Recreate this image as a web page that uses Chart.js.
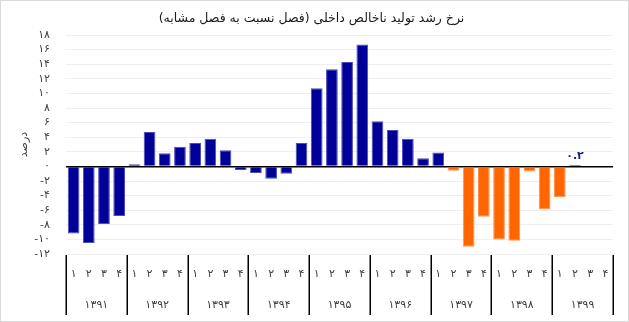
<!DOCTYPE html>
<html><head><meta charset="utf-8">
<script src="https://cdn.jsdelivr.net/npm/chart.js@4/dist/chart.umd.min.js"></script>
<style>html,body{margin:0;padding:0;background:#fff}#wrap{width:629px;height:322px}</style>
</head><body><div id="wrap"><canvas id="c" width="629" height="322"></canvas></div>
<script>
// ---- data ----
const years = ['۱۳۹۱','۱۳۹۲','۱۳۹۳','۱۳۹۴','۱۳۹۵','۱۳۹۶','۱۳۹۷','۱۳۹۸','۱۳۹۹'];
const quarters = ['۱','۲','۳','۴'];
const chartTitle = 'نرخ رشد تولید ناخالص داخلی (فصل نسبت به فصل مشابه)';
const yTitle = 'درصد';
// blue series (per quarter, 1391Q1 .. 1399Q4)
const blueSeries = [
  -9.2, -10.5, -7.9, -6.8,
   0.3,   4.7,  1.8,  2.7,
   3.2,   3.8,  2.2, -0.5,
  -0.9,  -1.7, -1.0,  3.2,
  10.7,  13.3, 14.3, 16.7,
   6.2,   5.0,  3.8,  1.1,
   1.9,  null, null, null,
  null,  null, null, null,
  null,   0.2, null, null
];
// orange series
const orangeSeries = [
  null, null, null, null,
  null, null, null, null,
  null, null, null, null,
  null, null, null, null,
  null, null, null, null,
  null, null, null, null,
  null, -0.6, -11.0, -6.9,
  -10.0, -10.2, -0.7, -5.9,
  -4.2, null, null, null
];
const blueLabels = [
  null,null,null,null, null,null,null,null, null,null,null,null,
  null,null,null,null, null,null,null,null, null,null,null,null,
  null,null,null,null, null,null,null,null, null,'۰.۲',null,null
];
const yMin = -12, yMax = 18, yStep = 2;

// ---- helpers ----
const faDigits = '۰۱۲۳۴۵۶۷۸۹';
const toFa = v => String(v).replace(/[0-9]/g, d => faDigits[+d]);
const categories = years.flatMap(() => quarters);

Chart.defaults.font.family = "'DejaVu Sans', sans-serif";
Chart.defaults.font.size = 11;
Chart.defaults.color = '#404040';

const framePlugin = {
  id: 'frame',
  beforeDraw(chart) {
    const c = chart.ctx; c.save(); c.fillStyle = '#fff'; c.fillRect(0,0,chart.width,chart.height); c.restore();
  },
  afterDraw(chart) {
    const c = chart.ctx;
    c.save();
    c.strokeStyle = '#d9d9d9'; c.lineWidth = 1;
    c.strokeRect(0.5, 0.5, chart.width - 1, chart.height - 1);
    // group separators
    const xs = chart.scales.x, x2 = chart.scales.x2;
    c.strokeStyle = '#000'; c.lineWidth = 1.5;
    const n = years.length;
    for (let g = 0; g <= n; g++) {
      const px = Math.round(xs.left + (xs.right - xs.left) * g / n) + 0.25;
      c.beginPath(); c.moveTo(px, xs.top + 1); c.lineTo(px, x2.bottom - 1); c.stroke();
    }
    c.restore();
  }
};

const labelPlugin = {
  id: 'vlabels',
  afterDatasetsDraw(chart) {
    const meta = chart.getDatasetMeta(0);
    const c = chart.ctx; c.save();
    c.fillStyle = '#1a1a8c'; c.font = "bold 11px 'DejaVu Sans', sans-serif";
    c.textAlign = 'center'; c.textBaseline = 'middle';
    blueLabels.forEach((t, i) => {
      if (t == null) return;
      const el = meta.data[i];
      c.fillText(t, el.x, el.y - 9);
    });
    c.restore();
  }
};

new Chart(document.getElementById('c'), {
  type: 'bar',
  data: {
    labels: categories,
    datasets: [
      { data: blueSeries, backgroundColor: '#000099', borderColor: '#4d4db8', borderWidth: 1, xAxisID: 'x' },
      { data: orangeSeries, backgroundColor: '#ff6600', borderColor: '#ff944d', borderWidth: 1, xAxisID: 'x' }
    ]
  },
  options: {
    responsive: false, animation: false, devicePixelRatio: 1,
    layout: { padding: { left: 10, right: 16, top: 0, bottom: 6 } },
    plugins: {
      legend: { display: false }, tooltip: { enabled: false },
      title: { display: true, text: chartTitle, color: '#1a1a1a', font: { size: 12.5, weight: 'normal' }, padding: { top: 11.5, bottom: 8.5 } }
    },
    datasets: { bar: { categoryPercentage: 1, barPercentage: 0.77 } },
    scales: {
      x: {
        stacked: true, offset: true,
        grid: { display: false }, border: { display: false },
        ticks: { autoSkip: false, maxRotation: 0, padding: 6, color: '#404040' },
        afterFit: s => { s.height = 32; }
      },
      x2: {
        type: 'category', labels: years, position: 'bottom', offset: true,
        grid: { display: false }, border: { display: false },
        ticks: { autoSkip: false, maxRotation: 0, padding: 5, color: '#404040' },
        afterFit: s => { s.height = 30; }
      },
      y: {
        stacked: true, min: yMin, max: yMax,
        ticks: { stepSize: yStep, autoSkip: false, padding: 16, color: '#404040', callback: v => toFa(v) },
        grid: {
          drawTicks: false,
          color: ctx => (ctx.tick && ctx.tick.value === 0) ? '#000' : '#efefef',
          lineWidth: ctx => (ctx.tick && ctx.tick.value === 0) ? 1.5 : 1
        },
        border: { display: false },
        title: { display: true, text: yTitle, color: '#404040', font: { size: 11 }, padding: 8 },
        afterFit: s => { s.width = 56; }
      }
    }
  },
  plugins: [framePlugin, labelPlugin]
});
</script></body></html>
